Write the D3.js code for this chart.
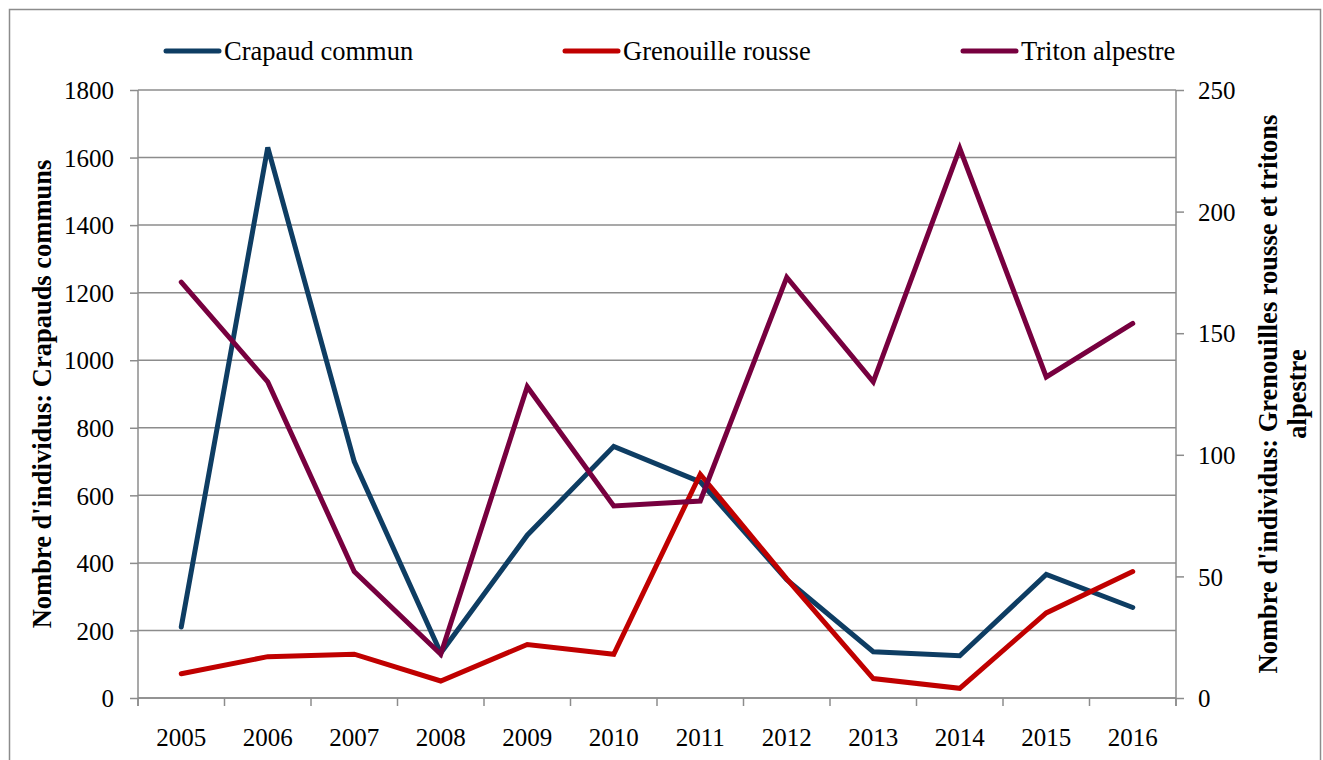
<!DOCTYPE html>
<html><head><meta charset="utf-8">
<script src="https://cdn.jsdelivr.net/npm/d3@7"></script>
<style>
html,body{margin:0;padding:0;background:#fff;}
svg{display:block;}
svg text{font-family:'Liberation Serif','Times New Roman',serif;}
</style></head>
<body>
<svg id="c" width="1323" height="760"></svg>
<script>
const years = ["2005","2006","2007","2008","2009","2010","2011","2012","2013","2014","2015","2016"];
const crapaud = [210,1630,700,133,482,745,640,350,137,125,366,268];
const grenouille = [10,17,18,7,22,18,92,49,8,4,35,52];
const triton = [171,130,52,18,128,79,81,173,130,226,132,154];
const leftTicks = [0,200,400,600,800,1000,1200,1400,1600,1800];
const rightTicks = [0,50,100,150,200,250];
const seriesNames = ["Crapaud commun","Grenouille rousse","Triton alpestre"];
const seriesColors = ["#0e3d63","#c00000","#77003f"];

const svg = d3.select("#c");
const L=138, R=1176, T=90, B=698;
const grey="#8c8c8c";

svg.append("rect").attr("x",9.5).attr("y",9.5).attr("width",1311).attr("height",800)
  .attr("fill","none").attr("stroke",grey).attr("stroke-width",1.5);

const x = d3.scaleBand().domain(years).range([L,R]).padding(0);
const yL = d3.scaleLinear().domain([0,1800]).range([B,T]);
const yR = d3.scaleLinear().domain([0,250]).range([B,T]);

svg.append("g").selectAll("line").data(leftTicks).join("line")
  .attr("x1",L).attr("x2",R).attr("y1",d=>yL(d)).attr("y2",d=>yL(d))
  .attr("stroke",grey).attr("stroke-width",1.5);

const gl = svg.append("g").attr("transform",`translate(${L},0)`)
  .call(d3.axisLeft(yL).tickValues(leftTicks).tickSize(8).tickPadding(16).tickFormat(d3.format("d")));
const gr = svg.append("g").attr("transform",`translate(${R},0)`)
  .call(d3.axisRight(yR).tickValues(rightTicks).tickSize(8).tickPadding(14).tickFormat(d3.format("d")));
const gb = svg.append("g").attr("transform",`translate(0,${B})`)
  .call(d3.axisBottom(x).tickSize(0).tickPadding(30));
svg.append("g").selectAll("line").data(years.concat(["end"])).join("line")
  .attr("x1",(d,i)=>L+i*x.bandwidth()).attr("x2",(d,i)=>L+i*x.bandwidth())
  .attr("y1",B).attr("y2",B+8).attr("stroke",grey).attr("stroke-width",1.5);

[gl,gr,gb].forEach(g=>{
  g.attr("font-family",null).attr("font-size",null);
  g.selectAll(".domain").attr("stroke",grey).attr("stroke-width",1.5);
  g.selectAll(".tick line").attr("stroke",grey).attr("stroke-width",1.5);
  g.selectAll("text").attr("fill","#000").style("font-size","25px");
});
gl.select(".domain").attr("d",`M0,${T}V${B+8}`);
gr.select(".domain").attr("d",`M0,${T}V${B+8}`);
gb.select(".domain").attr("d",`M${L},0H${R}`);
gl.selectAll(".tick text").attr("dy","0.35em");
gr.selectAll(".tick text").attr("dy","0.35em");

const cx = d=>x(d)+x.bandwidth()/2;
const mk = (vals,scale)=>d3.line().x((d,i)=>cx(years[i])).y(d=>scale(d))(vals);
const data = [[crapaud,yL],[grenouille,yR],[triton,yR]];
data.forEach((s,i)=>{
  svg.append("path").attr("d",mk(s[0],s[1])).attr("fill","none")
    .attr("stroke",seriesColors[i]).attr("stroke-width",5)
    .attr("stroke-linejoin","miter").attr("stroke-linecap","round");
});

const legX=[166,565,963];
seriesNames.forEach((n,i)=>{
  svg.append("line").attr("x1",legX[i]).attr("x2",legX[i]+53).attr("y1",51).attr("y2",51)
    .attr("stroke",seriesColors[i]).attr("stroke-width",5).attr("stroke-linecap","round");
  svg.append("text").attr("x",legX[i]+58).attr("y",60).text(n)
    .style("font-size","26.5px").attr("fill","#000");
});

svg.append("text").attr("transform",`translate(51,${(T+B)/2}) rotate(-90)`)
  .attr("text-anchor","middle").style("font-size","26.5px").style("font-weight","bold")
  .text("Nombre d'individus: Crapauds communs");
const rt = svg.append("text").attr("transform",`translate(1277,${(T+B)/2}) rotate(-90)`)
  .attr("text-anchor","middle").style("font-size","26.5px").style("font-weight","bold");
rt.append("tspan").attr("x",0).attr("dy",0).text("Nombre d'individus: Grenouilles rousse et tritons");
rt.append("tspan").attr("x",0).attr("dy",29).text("alpestre");
</script>
</body></html>
